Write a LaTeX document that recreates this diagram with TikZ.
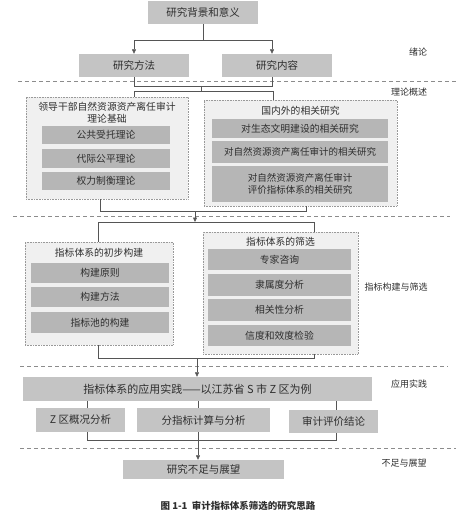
\documentclass[tikz,border=0pt]{standalone}
\usepackage{fontspec}
\setmainfont{Noto Sans CJK SC}
\usetikzlibrary{arrows.meta,calc}
\definecolor{boxg}{HTML}{C4C4C4}
\definecolor{innerg}{HTML}{B6B6B6}
\definecolor{panelg}{HTML}{F0F0F0}
\definecolor{txt}{HTML}{2E2E2E}
\definecolor{lineg}{HTML}{555555}
\tikzset{
  mainbox/.style={fill=boxg, draw=none, inner sep=0pt, text=txt, font=\fontsize{10.5}{12}\selectfont},
  innerbox/.style={fill=innerg, draw=none, inner sep=0pt, text=txt, font=\fontsize{9.8}{12}\selectfont, align=center},
  panel/.style={fill=panelg, draw=gray!80, densely dotted, line width=0.6pt, inner sep=0pt},
  ttl/.style={text=txt, font=\fontsize{9.8}{12}\selectfont, align=center, inner sep=0pt},
  side/.style={text=txt, font=\fontsize{9}{11}\selectfont, inner sep=0pt},
  conn/.style={draw=lineg, line width=0.6pt},
  arr/.style={conn, -{Triangle[length=4.5pt,width=4pt]}},
  sep/.style={draw=gray!90, dashed, dash pattern=on 4pt off 3pt, line width=0.5pt}
}
\begin{document}
\begin{tikzpicture}[x=1pt,y=-1pt]
\useasboundingbox (0,0) rectangle (459,516);
% separators
\coordinate (s1a) at (18,81);  \coordinate (s1b) at (456,81);
\coordinate (s2a) at (13,216); \coordinate (s2b) at (450,216);
\coordinate (s3a) at (20,366); \coordinate (s3b) at (448,366);
\coordinate (s4a) at (20,448); \coordinate (s4b) at (456,448);
\draw[sep] (s1a) -- (s1b);
\draw[sep] (s2a) -- (s2b);
\draw[sep] (s3a) -- (s3b);
\draw[sep] (s4a) -- (s4b);
% section labels
\node[side] (l1) at (418,52) {绪论};
\node[side] (l2) at (409,92) {理论概述};
\node[side] (l3) at (396,287) {指标构建与筛选};
\node[side] (l4) at (409,384) {应用实践};
\node[side] (l5) at (404,463) {不足与展望};
% top
\node[mainbox, minimum width=110pt, minimum height=23pt] (top) at (203,12.5) {研究背景和意义};
\node[mainbox, minimum width=110pt, minimum height=23pt] (fangfa) at (134,65.5) {研究方法};
\node[mainbox, minimum width=110pt, minimum height=23pt] (neirong) at (277,65.5) {研究内容};
\coordinate (j1) at (203,40);
\draw[conn] (top.south) -- (j1);
\draw[arr] (j1) -| (fangfa.north);
\draw[arr] (j1) -| ($(neirong.north)+(-5,0)$);
% theory panels
\node[panel, minimum width=162pt, minimum height=102pt] (p1) at (107,148) {};
\node[ttl] (p1t) at (107,113) {领导干部自然资源资产离任审计\\理论基础};
\node[innerbox, minimum width=128pt, minimum height=18pt] (a1) at (106,135) {公共受托理论};
\node[innerbox, minimum width=128pt, minimum height=19pt] (a2) at (106,158.5) {代际公平理论};
\node[innerbox, minimum width=128pt, minimum height=18pt] (a3) at (106,181) {权力制衡理论};
\node[panel, minimum width=193pt, minimum height=106pt] (p2) at (300.5,153) {};
\node[ttl] (p2t) at (300.5,111) {国内外的相关研究};
\node[innerbox, minimum width=176pt, minimum height=19pt] (b1) at (300,128.5) {对生态文明建设的相关研究};
\node[innerbox, minimum width=176pt, minimum height=22pt, font=\fontsize{9.5}{12}\selectfont] (b2) at (300,152) {对自然资源资产离任审计的相关研究};
\node[innerbox, minimum width=176pt, minimum height=36pt, font=\fontsize{9.5}{12.5}\selectfont] (b3) at (300,184) {对自然资源资产离任审计\\评价指标体系的相关研究};
% connectors level 1 -> 2
\coordinate (j2l) at (134,86); \coordinate (j2r) at (272,86);
\coordinate (j2c) at (201,86); \coordinate (j3c) at (201,91);
\coordinate (j3l) at (134,91); \coordinate (j3r) at (273,91);
\draw[conn] (fangfa.south) -- (j2l) -- (j2r) -- ($(neirong.south)+(-5,0)$);
\draw[conn] (j2c) -- (j3c);
\draw[conn] (p1.north -| j3l) -- (j3l) -- (j3r) -- (p2.north -| j3r);
% indicator panels
\node[panel, minimum width=148pt, minimum height=103pt] (p3) at (99,293.5) {};
\node[ttl] (p3t) at (99,253) {指标体系的初步构建};
\node[innerbox, minimum width=138pt, minimum height=20pt] (c1) at (100,273) {构建原则};
\node[innerbox, minimum width=138pt, minimum height=20pt] (c2) at (100,297) {构建方法};
\node[innerbox, minimum width=138pt, minimum height=21pt] (c3) at (100,322.5) {指标池的构建};
\node[panel, minimum width=155pt, minimum height=122pt] (p4) at (280.5,293) {};
\node[ttl] (p4t) at (280.5,242) {指标体系的筛选};
\node[innerbox, minimum width=143pt, minimum height=21pt] (d1) at (279.5,259.5) {专家咨询};
\node[innerbox, minimum width=143pt, minimum height=22pt] (d2) at (279.5,285) {隶属度分析};
\node[innerbox, minimum width=143pt, minimum height=22pt] (d3) at (279.5,310) {相关性分析};
\node[innerbox, minimum width=143pt, minimum height=21pt] (d4) at (279.5,335.5) {信度和效度检验};
% connectors level 2 -> 3
\coordinate (k1l) at (100,211); \coordinate (k1r) at (306,211);
\coordinate (k1c) at (195,211); \coordinate (k2c) at (195,222);
\coordinate (k2l) at (98,222); \coordinate (k2r) at (314,222);
\draw[conn] (p1.south -| k1l) -- (k1l) -- (k1r) -- (p2.south -| k1r);
\draw[arr] (k1c) -- (k2c);
\draw[conn] (p3.north -| k2l) -- (k2l) -- (k2r) -- (p4.north -| k2r);
% application
\node[mainbox, minimum width=349pt, minimum height=24pt, font=\fontsize{11}{13}\selectfont] (app) at (197.5,389) {指标体系的应用实践——以江苏省 S 市 Z 区为例};
\coordinate (m1l) at (98,358); \coordinate (m1r) at (314,358); \coordinate (m1c) at (197,358);
\draw[conn] (p3.south -| m1l) -- (m1l) -- (m1r) -- (p4.south -| m1r);
\draw[arr] (m1c) -- (app.north -| m1c);
\node[mainbox, minimum width=89pt, minimum height=24pt] (e1) at (80.5,420) {Z 区概况分析};
\node[mainbox, minimum width=133pt, minimum height=24pt] (e2) at (203.5,420) {分指标计算与分析};
\node[mainbox, minimum width=89pt, minimum height=23pt] (e3) at (333.5,421.5) {审计评价结论};
\coordinate (x1) at (87,0); \coordinate (x2) at (198,0); \coordinate (x3) at (336,0);
\draw[conn] (app.south -| x1) -- (e1.north -| x1);
\draw[conn] (app.south -| x2) -- (e2.north -| x2);
\draw[conn] (app.south -| x3) -- (e3.north -| x3);
\coordinate (n1l) at (87,440); \coordinate (n1r) at (336,440);
\draw[conn] (e1.south -| n1l) -- (n1l) -- (n1r) -- (e3.south -| n1r);
% final
\node[mainbox, minimum width=161pt, minimum height=19pt] (fin) at (203.5,469.5) {研究不足与展望};
\draw[arr] (e2.south -| x2) -- (fin.north -| x2);
% caption
\node[text=txt, font=\fontsize{9.5}{11}\selectfont\bfseries, inner sep=0pt] (cap) at (238,506) {图 1-1\ \ 审计指标体系筛选的研究思路};
\end{tikzpicture}
\end{document}
